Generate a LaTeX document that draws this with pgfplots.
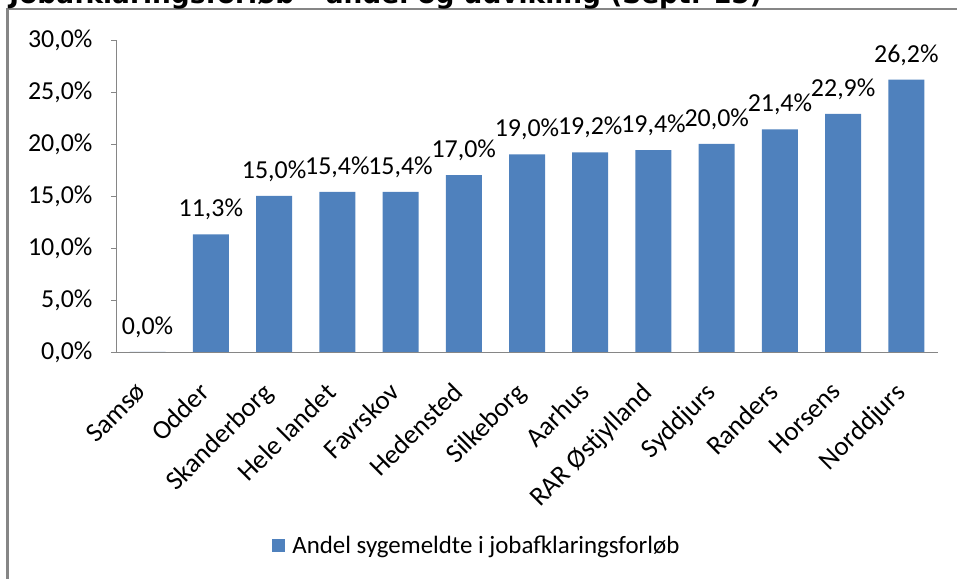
\documentclass[border=0pt]{standalone}
\usepackage{pgfplots}
\pgfplotsset{compat=1.18}
\usepackage{fontspec}
\setmainfont{Carlito}
\newfontfamily\titlefont{DejaVu Sans}
\definecolor{barblue}{HTML}{4F81BD}
\definecolor{axgray}{HTML}{868686}
\begin{document}
\begin{tikzpicture}[x=1bp,y=1bp]
\useasboundingbox (0,0) rectangle (957,579);
\draw[axgray, line width=2.2bp] (7.5,-20) rectangle (990,570);
\node[anchor=base east, inner sep=0pt, font=\titlefont\bfseries\fontsize{26.5}{30}\selectfont] at (762,575.5) {Jobafklaringsforløb – andel og udvikling (Sept. 15)};
\begin{axis}[
  at={(116bp,227bp)}, anchor=south west,
  scale only axis, width=822bp, height=312bp,
  /pgf/number format/assume math mode=true,
  font=\fontsize{26}{30}\selectfont,
  ymin=0, ymax=30, ytick={0,5,...,30},
  yticklabel={\pgfmathprintnumber[fixed,fixed zerofill,precision=1,use comma]{\tick}\%},
  yticklabel style={xshift=-15bp},
  xmin=-0.5, xmax=12.5,
  xtick={0,...,12},
  xticklabels={Samsø,Odder,Skanderborg,Hele landet,Favrskov,Hedensted,Silkeborg,Aarhus,RAR Østjylland,Syddjurs,Randers,Horsens,Norddjurs},
  xticklabel style={xshift=-13bp, yshift=-21bp, rotate=45, anchor=north east, inner sep=2pt, font=\fontsize{27}{31}\selectfont},
  x tick style={draw=none},
  y tick style={axgray, line width=0.8bp},
  tick align=outside, major tick length=5bp,
  axis x line*=bottom, axis y line*=left,
  axis line style={axgray, line width=0.8bp},
  y axis line style={-}, x axis line style={-},
  ybar, bar width=36bp,
  nodes near coords={\pgfmathprintnumber[fixed,fixed zerofill,precision=1,use comma]{\pgfplotspointmeta}\%},
  every node near coord/.style={black, font=\fontsize{26}{30}\selectfont, inner sep=2pt, yshift=12bp},
  legend style={at={(0.19,-0.619)}, anchor=west, draw=none, inner sep=0pt, font=\fontsize{25}{29}\selectfont, legend cell align=left, /tikz/every odd column/.append style={column sep=5bp}},
  legend image code/.code={\fill[barblue] (0bp,-6.5bp) rectangle (13bp,6.5bp);},
  clip=false,
]
\addplot[fill=barblue, draw=none] coordinates {
(0,0.0) (1,11.3) (2,15.0) (3,15.4) (4,15.4) (5,17.0) (6,19.0) (7,19.2) (8,19.4) (9,20.0) (10,21.4) (11,22.9) (12,26.2)};
\addlegendentry{Andel sygemeldte i jobafklaringsforløb}
\end{axis}
\end{tikzpicture}
\end{document}
